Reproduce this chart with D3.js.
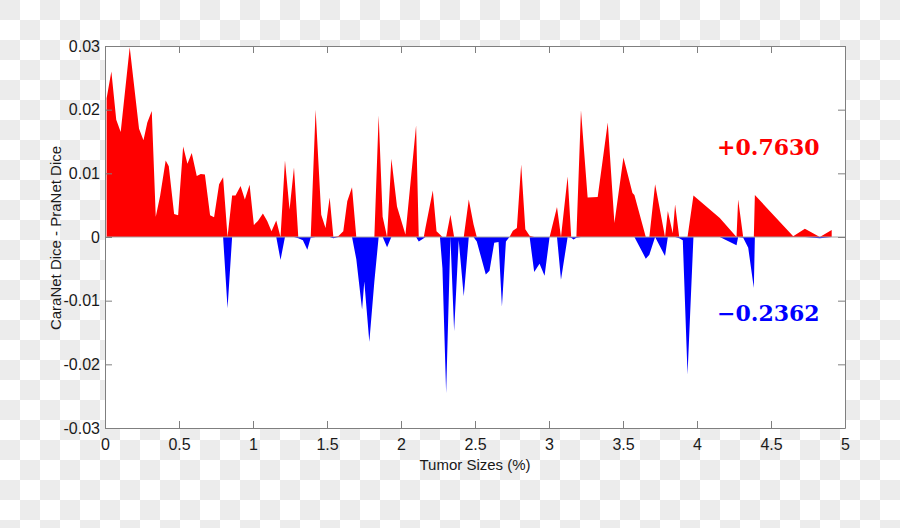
<!DOCTYPE html>
<html><head><meta charset="utf-8">
<script src="https://cdn.jsdelivr.net/npm/d3@7"></script>
<style>
html,body{margin:0;padding:0}
body{background-color:#fff;background-image:repeating-conic-gradient(#ececec 0% 25%, #ffffff 0% 50%);background-size:40px 40px;background-position:20px 0}
svg{display:block}
</style>
</head><body><svg id="chart" width="900" height="528"></svg>
<script>
// ---- data ----
const tumorSizes = [0.011,0.043,0.076,0.106,0.167,0.230,0.260,0.286,0.316,0.343,0.372,0.410,0.431,0.467,0.494,0.528,0.557,0.586,0.620,0.647,0.675,0.710,0.737,0.771,0.798,0.828,0.859,0.882,0.916,0.945,0.977,1.006,1.033,1.067,1.096,1.125,1.157,1.186,1.216,1.247,1.277,1.306,1.337,1.367,1.390,1.423,1.461,1.490,1.518,1.543,1.576,1.610,1.637,1.669,1.698,1.737,1.752,1.786,1.820,1.849,1.876,1.906,1.935,1.973,2.030,2.102,2.120,2.154,2.165,2.215,2.240,2.263,2.280,2.305,2.334,2.359,2.390,2.424,2.458,2.490,2.512,2.573,2.598,2.630,2.659,2.682,2.709,2.733,2.756,2.783,2.812,2.840,2.869,2.900,2.936,2.970,3.004,3.054,3.081,3.126,3.150,3.166,3.185,3.216,3.261,3.329,3.397,3.442,3.503,3.564,3.577,3.654,3.678,3.717,3.784,3.803,3.836,3.852,3.880,3.904,3.936,3.976,4.154,4.267,4.278,4.312,4.346,4.384,4.391,4.650,4.729,4.830,4.910];
const diceDiff = [0.0218,0.0260,0.0184,0.0165,0.0298,0.0170,0.0152,0.0180,0.0198,0.0032,0.0064,0.0120,0.0111,0.0036,0.0034,0.0142,0.0115,0.0132,0.0096,0.0099,0.0098,0.0034,0.0031,0.0083,0.0094,-0.0112,0.0065,0.0065,0.0080,0.0059,0.0082,0.0019,0.0025,0.0037,0.0025,0.0009,0.0026,-0.0036,0.0120,0.0043,0.0109,-0.0002,-0.0005,-0.0020,-0.0001,0.0200,0.0035,0.0014,0.0062,-0.0002,0.0001,0.0009,0.0056,0.0078,-0.0035,-0.0114,-0.0070,-0.0165,-0.0070,0.0191,0.0032,-0.0016,0.0123,0.0048,0.0004,0.0175,-0.0007,-0.0002,0.0014,0.0073,0.0009,0.0004,-0.0049,-0.0245,0.0035,-0.0148,-0.0005,-0.0093,0.0059,0.0020,-0.0007,-0.0059,-0.0053,-0.0009,-0.0008,-0.0109,-0.0007,0.0000,0.0010,0.0014,0.0114,0.0012,0.0002,-0.0055,-0.0042,-0.0061,0.0000,0.0047,-0.0067,0.0095,-0.0001,-0.0004,-0.0001,0.0199,0.0062,0.0063,0.0180,0.0022,0.0125,0.0069,0.0066,-0.0034,-0.0028,0.0083,-0.0030,0.0041,0.0006,0.0051,-0.0002,-0.0005,-0.0216,0.0065,0.0030,-0.0013,0.0059,-0.0001,-0.0017,-0.0080,0.0066,0.0001,0.0013,-0.0002,0.0011];
const xTicks = [0,0.5,1,1.5,2,2.5,3,3.5,4,4.5,5];
const xTickLabels = ["0","0.5","1","1.5","2","2.5","3","3.5","4","4.5","5"];
const yTicks = [-0.03,-0.02,-0.01,0,0.01,0.02,0.03];
const yTickLabels = ["-0.03","-0.02","-0.01","0","0.01","0.02","0.03"];
const xTitle = "Tumor Sizes (%)";
const yTitle = "CaraNet Dice - PraNet Dice";
const gainText = "+0.7630";
const lossText = "\u22120.2362";

// ---- drawing ----
const svg = d3.select("#chart");
const L = 105, R = 845, T = 46, B = 428;
const x = d3.scaleLinear().domain([0,5]).range([L,R]);
const y = d3.scaleLinear().domain([-0.03,0.03]).range([B,T]);

svg.append("rect").attr("x",L).attr("y",T).attr("width",R-L).attr("height",B-T).attr("fill","#fff");

const pts = tumorSizes.map((s,i)=>({s, v: diceDiff[i]}));
const posArea = d3.area().x(d=>x(d.s)).y0(y(0)).y1(d=>y(Math.max(0,d.v)));
const negArea = d3.area().x(d=>x(d.s)).y0(y(0)).y1(d=>y(Math.min(0,d.v)));
svg.append("path").datum(pts).attr("d",posArea).attr("fill","#ff0000");
svg.append("path").datum(pts).attr("d",negArea).attr("fill","#0000ff");

// zero baseline
svg.append("line").attr("x1",x(0)).attr("x2",x(5)).attr("y1",y(0)).attr("y2",y(0))
  .attr("stroke","#a6a6a6").attr("stroke-width",1);

const axisColor = "#7f7f7f";
const font = "'Liberation Sans', Arial, sans-serif";
function style(g){
  g.selectAll(".domain").attr("stroke",axisColor);
  g.selectAll(".tick line").attr("stroke",axisColor);
  g.selectAll("text").attr("fill","#1a1a1a").style("font-family",font).style("font-size","16px");
}
const gb = svg.append("g").attr("transform",`translate(0,${B})`)
  .call(d3.axisBottom(x).tickValues(xTicks).tickFormat((d,i)=>xTickLabels[i]).tickSizeInner(-7).tickSizeOuter(0).tickPadding(11));
style(gb);
const gt = svg.append("g").attr("transform",`translate(0,${T})`)
  .call(d3.axisTop(x).tickValues(xTicks).tickFormat("").tickSizeInner(-7).tickSizeOuter(0));
style(gt);
const gl = svg.append("g").attr("transform",`translate(${L},0)`)
  .call(d3.axisLeft(y).tickValues(yTicks).tickFormat((d,i)=>yTickLabels[i]).tickSizeInner(-7).tickSizeOuter(0).tickPadding(5));
style(gl);
const gr = svg.append("g").attr("transform",`translate(${R},0)`)
  .call(d3.axisRight(y).tickValues(yTicks).tickFormat("").tickSizeInner(-7).tickSizeOuter(0));
style(gr);

svg.append("text").attr("x",(L+R)/2).attr("y",470).attr("text-anchor","middle")
  .style("font-family",font).style("font-size","15px").attr("fill","#1a1a1a").text(xTitle);
svg.append("text").attr("transform","translate(61,238) rotate(-90)").attr("text-anchor","middle")
  .style("font-family",font).style("font-size","15px").attr("fill","#1a1a1a").text(yTitle);

const serif = "'DejaVu Serif', serif";
svg.append("text").attr("x",717).attr("y",155).style("font-family",serif).style("font-weight","bold")
  .style("font-size","22px").attr("fill","#ff0000").text(gainText);
svg.append("text").attr("x",717).attr("y",321).style("font-family",serif).style("font-weight","bold")
  .style("font-size","22px").attr("fill","#0000ff").text(lossText);
</script></body></html>
